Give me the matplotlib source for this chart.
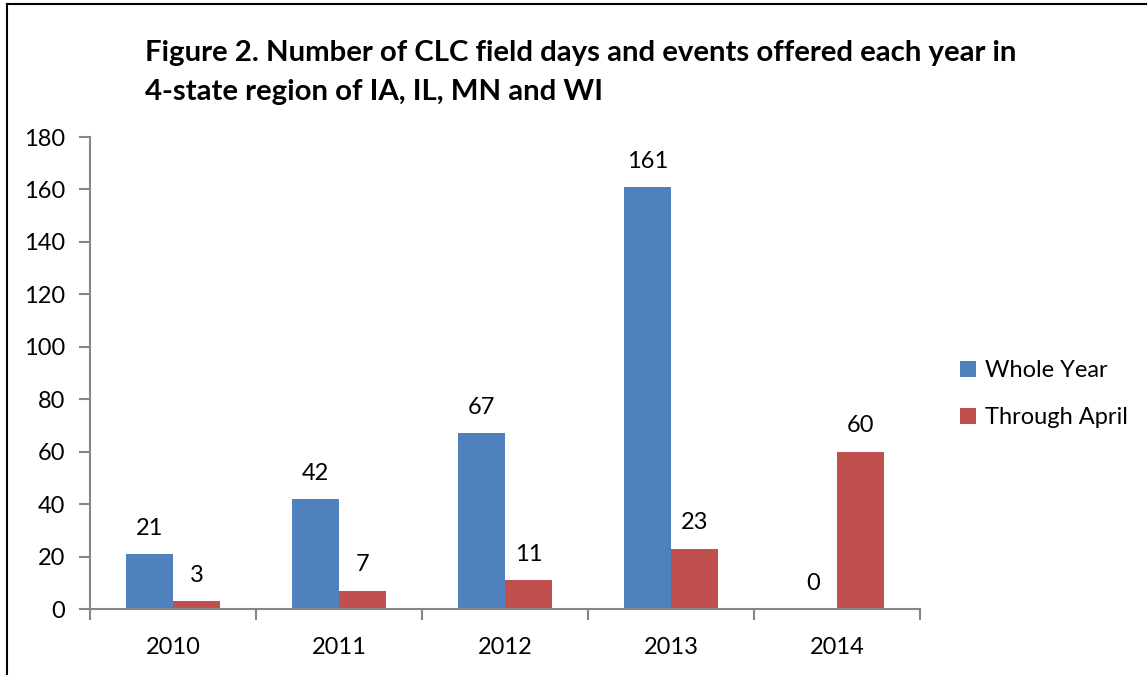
import matplotlib
matplotlib.use("Agg")
import matplotlib.pyplot as plt
import numpy as np
from matplotlib.lines import Line2D

years = ["2010", "2011", "2012", "2013", "2014"]
whole_year = [21, 42, 67, 161, 0]
through_april = [3, 7, 11, 23, 60]
series_names = ["Whole Year", "Through April"]
yticks = [0, 20, 40, 60, 80, 100, 120, 140, 160, 180]

plt.rcParams['font.family'] = ['Lato', 'DejaVu Sans']

fig = plt.figure(figsize=(11.47, 6.75), dpi=100)
ax = fig.add_axes([90/1147, 66/675, 830/1147, 472/675])

x = np.arange(len(years))
w = 1/3.5
blue = "#4F81BD"
red = "#C0504D"
b1 = ax.bar(x - w/2, whole_year, w, color=blue, label=series_names[0])
b2 = ax.bar(x + w/2, through_april, w, color=red, label=series_names[1])

for bars, vals in ((b1, whole_year), (b2, through_april)):
    for rect, v in zip(bars, vals):
        ax.annotate(str(v), (rect.get_x() + rect.get_width()/2, v),
                    xytext=(0, 11), textcoords="offset points",
                    ha="center", va="bottom", fontsize=17, color="black")

ax.set_xlim(-0.5, len(years) - 0.5)
ax.set_ylim(0, 180)
ax.set_yticks(yticks)
ax.set_xticks(x)
ax.set_xticklabels(years)
ax.set_xticks(np.arange(len(years) + 1) - 0.5, minor=True)
ax.tick_params(axis='x', which='major', length=0, pad=20, labelsize=17)
ax.tick_params(axis='x', which='minor', length=8, width=1.5, color="#868686")
ax.tick_params(axis='y', length=8, width=1.5, color="#868686", labelsize=17, pad=10)
for s in ("top", "right"):
    ax.spines[s].set_visible(False)
for s in ("left", "bottom"):
    ax.spines[s].set_color("#868686")
    ax.spines[s].set_linewidth(1.5)

fig.text(145/1147, 1 - 53/675, "Figure 2. Number of CLC field days and events offered each year in",
         fontsize=21.2, fontweight="bold", va="center", ha="left")
fig.text(145/1147, 1 - 92/675, "4-state region of IA, IL, MN and WI",
         fontsize=21.2, fontweight="bold", va="center", ha="left")

leg = fig.legend(handles=[b1, b2], labels=series_names, loc="upper left",
                 bbox_to_anchor=(939/1147, 1 - 339/675), frameon=False, fontsize=17,
                 handlelength=0.65, handleheight=0.65, handletextpad=0.4, labelspacing=1.09)

# border lines (left and top)
fig.add_artist(Line2D([7.5/1147, 7.5/1147], [0, 1 - 4/675], color="black", lw=1.5, transform=fig.transFigure))
fig.add_artist(Line2D([7.5/1147, 1], [1 - 4/675, 1 - 4/675], color="black", lw=1.5, transform=fig.transFigure))

fig.savefig("out.png", dpi=100)
